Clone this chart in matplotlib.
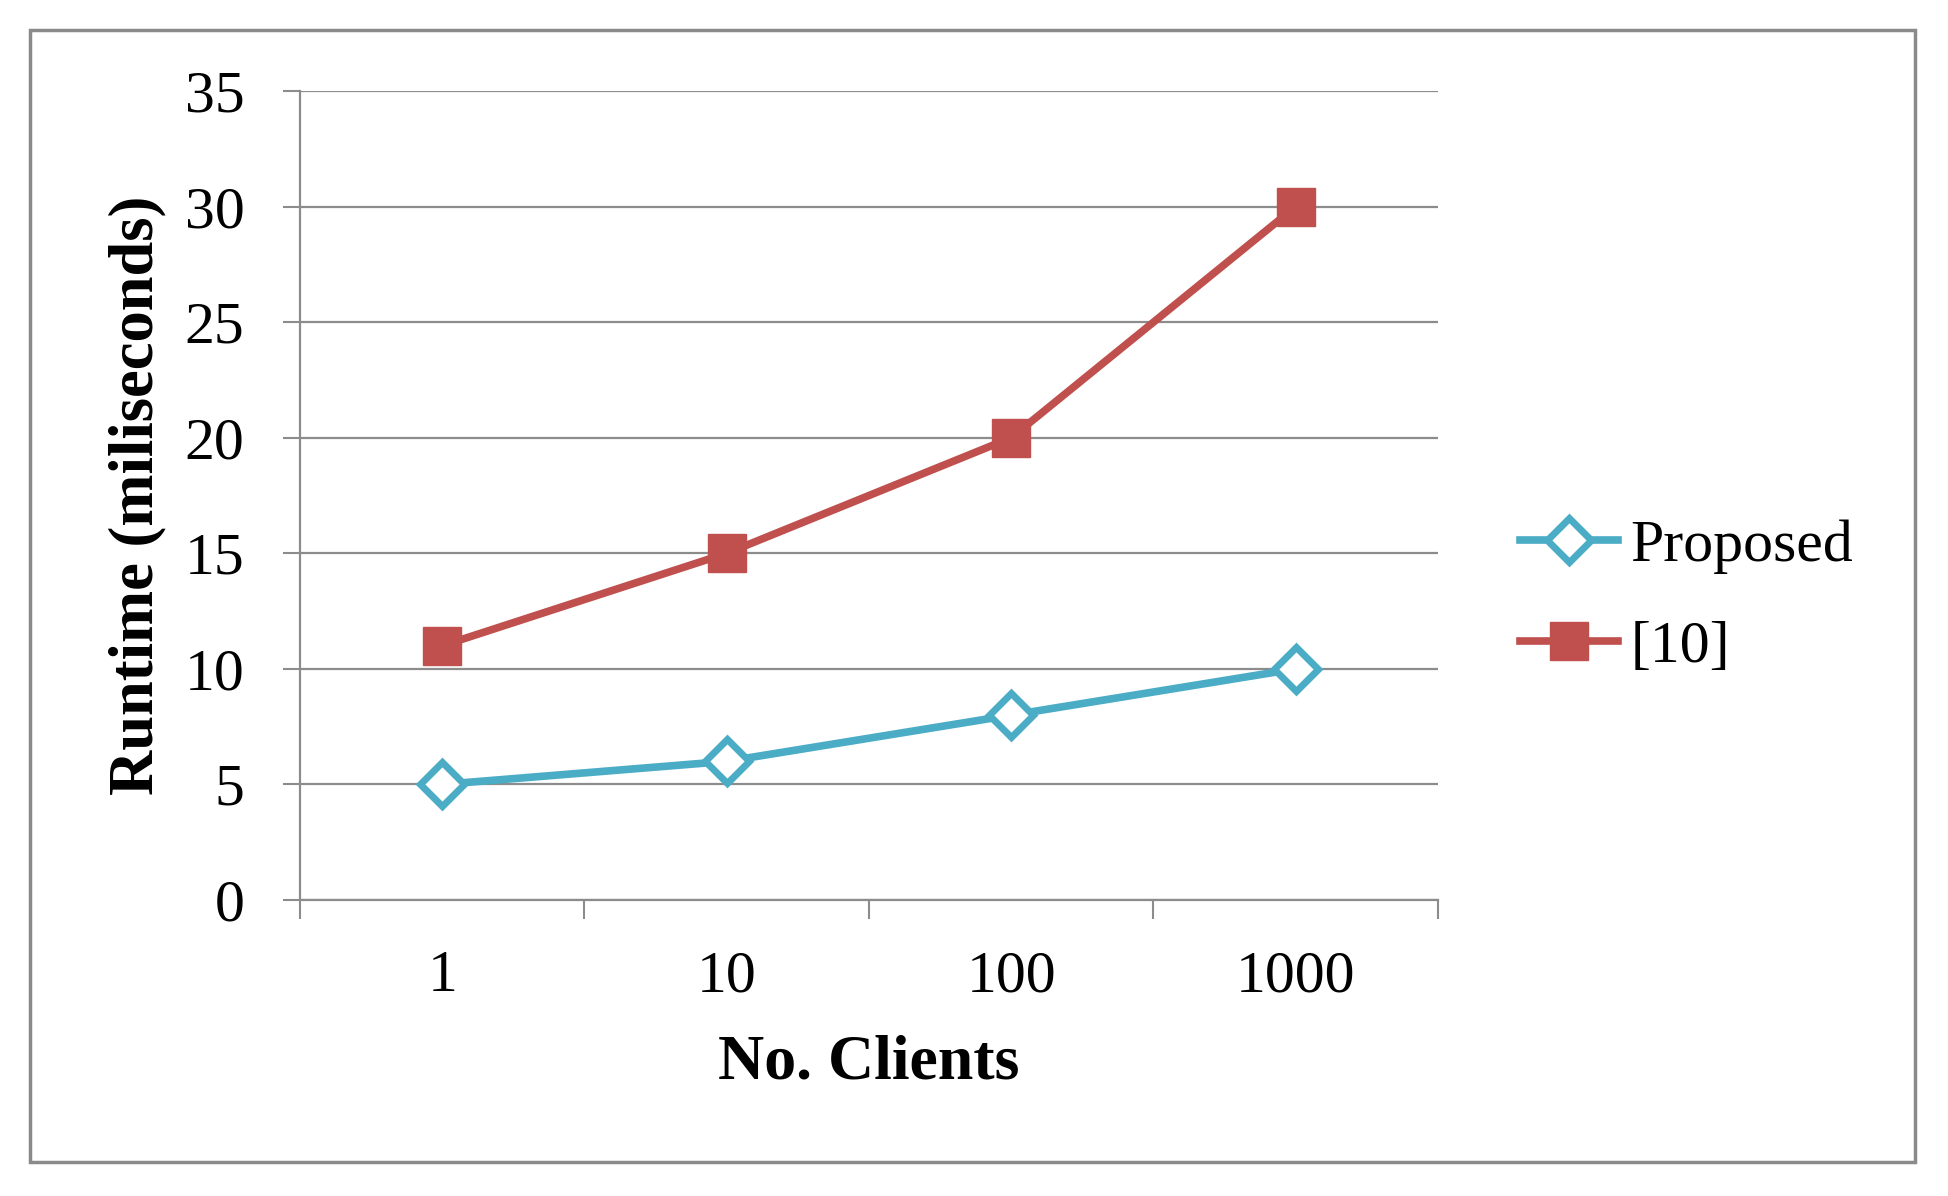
import matplotlib
matplotlib.use("Agg")
import matplotlib.pyplot as plt
from matplotlib.patches import Rectangle

categories = ["1", "10", "100", "1000"]
proposed = [5, 6, 8, 10]
ref10 = [11, 15, 20, 30]
series_names = ["Proposed", "[10]"]
y_ticks = [0, 5, 10, 15, 20, 25, 30, 35]

plt.rcParams['font.family'] = ['Liberation Serif', 'DejaVu Serif']

W, H = 1949, 1196
fig = plt.figure(figsize=(W / 100, H / 100), dpi=100)

# outer border
fig.patches.append(Rectangle((30 / W, 1 - 1162 / H), (1915 - 30) / W, (1162 - 30) / H,
                             transform=fig.transFigure, fill=False,
                             edgecolor='#8a8a8a', linewidth=2.5))

ax = fig.add_axes([300 / W, 1 - 900 / H, (1438 - 300) / W, (900 - 91) / H])

blue = '#4BACC6'
red = '#C0504D'
grid_c = '#8c8c8c'

x = list(range(len(categories)))
ax.plot(x, proposed, color=blue, lw=5.5, marker='D', markersize=22,
        markerfacecolor='white', markeredgecolor=blue, markeredgewidth=5,
        label=series_names[0], zorder=3, clip_on=False)
ax.plot(x, ref10, color=red, lw=5.5, marker='s', markersize=28,
        markerfacecolor=red, markeredgecolor=red, markeredgewidth=1,
        label=series_names[1], zorder=3, clip_on=False)

ax.set_xlim(-0.5, len(categories) - 0.5)
ax.set_ylim(0, 35)
ax.set_yticks(y_ticks)
ax.set_yticklabels([str(v) for v in y_ticks], fontsize=43)
ax.set_xticks(x)
ax.set_xticklabels(categories, fontsize=43)
ax.set_xticks([i - 0.5 for i in range(len(categories) + 1)], minor=True)

ax.tick_params(axis='x', which='major', length=0, pad=36)
ax.tick_params(axis='x', which='minor', length=14, width=1.5, color=grid_c, direction='out')
ax.tick_params(axis='y', which='major', length=12, width=1.5, color=grid_c, direction='out', pad=28)

ax.grid(axis='y', color=grid_c, linewidth=1.6, zorder=0)
ax.set_axisbelow(True)
for s in ['top', 'right']:
    ax.spines[s].set_visible(False)
for s in ['left', 'bottom']:
    ax.spines[s].set_color(grid_c)
    ax.spines[s].set_linewidth(1.6)

ax.set_ylabel("Runtime (miliseconds)", fontsize=45, fontweight='bold')
ax.yaxis.set_label_coords(-0.143, 0.5)
ax.yaxis.label.set_va('center')
ax.set_xlabel("No. Clients", fontsize=46, fontweight='bold')
ax.xaxis.set_label_coords(0.5, -0.2015)
ax.xaxis.label.set_va('center')

leg = fig.legend(loc='center left', bbox_to_anchor=(1496 / W, 1 - 597 / H),
                 frameon=False, fontsize=43, handlelength=1.65, handletextpad=0.2,
                 labelspacing=0.78, borderaxespad=0)

fig.savefig("out.png", dpi=100)
